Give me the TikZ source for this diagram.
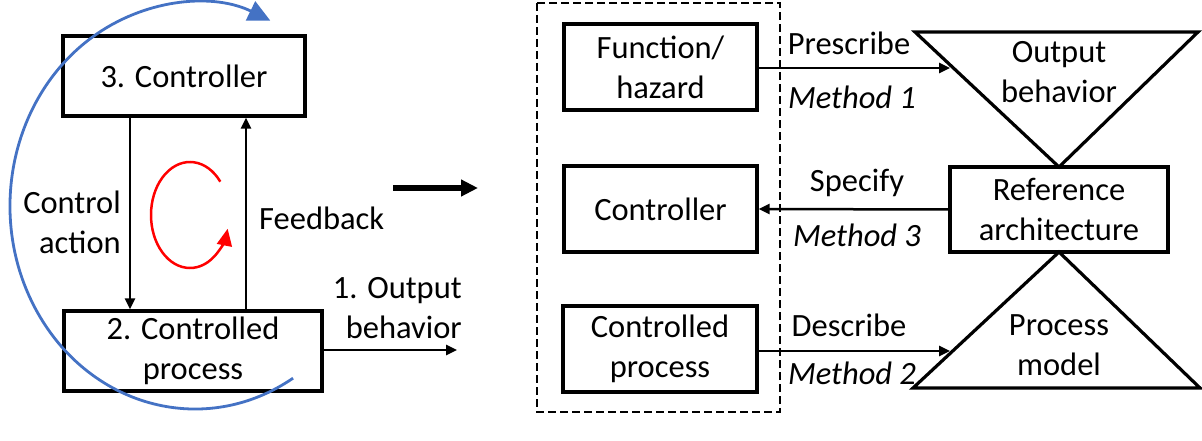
\documentclass[tikz,border=0pt]{standalone}
\usepackage{fontspec}
\setmainfont{Carlito}
\usetikzlibrary{arrows.meta}
\begin{document}
\begin{tikzpicture}[x=1pt,y=1pt,
  every node/.style={font=\fontsize{32.5}{40}\selectfont, inner sep=0pt, align=center},
  box/.style={draw, line width=3.2pt},
  arr/.style={line width=2.5pt, -{Triangle[length=11pt,width=10pt]}},
  mth/.style={font=\fontsize{32.5}{40}\selectfont\itshape}]
\useasboundingbox (0,0) rectangle (1202,-441);
% left part
\node[box, minimum width=242, minimum height=80] (ctrl) at (184,-76) {3. Controller};
\node[box, minimum width=258, minimum height=80] (proc) at (193,-351) {2. Controlled\\process};
\coordinate (caX) at (130,0);
\coordinate (fbX) at (246,0);
\draw[arr] (ctrl.south -| caX) -- (proc.north -| caX);
\draw[arr] (proc.north -| fbX) -- (ctrl.south -| fbX);
\node[anchor=east, align=right] (calbl) at (121,-222) {Control\\action};
\node[anchor=west] (fblbl) at (259,-218) {Feedback};
\coordinate (outEnd) at (457,-350);
\draw[arr] (proc.east |- outEnd) -- (outEnd);
\node[anchor=east, align=right] (outlbl) at (462,-308) {1. Output\\behavior};
% red loop
\coordinate (rc) at (190,-215);
\draw[red, line width=2.5pt, -{Triangle[length=17pt,width=15pt]}]
  (rc) ++(39:39 and 53) arc[start angle=39, end angle=345, x radius=39, y radius=53];
% blue loop
\coordinate (bc) at (195,-206);
\draw[color={rgb,255:red,68;green,114;blue,196}, line width=2.8pt, -{Triangle[length=22pt,width=21pt]}]
  (bc) ++(-58:185 and 203) arc[start angle=-58, end angle=-294, x radius=185, y radius=203];
% big arrow
\coordinate (ba1) at (393,-188);
\coordinate (ba2) at (478,-188);
\draw[line width=5.5pt, -{Triangle[length=17pt,width=16pt]}] (ba1) -- (ba2);
% right part
\draw[line width=2.6pt, dash pattern=on 8pt off 4pt] (537,-3) rectangle (780,-412);
\node[box, minimum width=193, minimum height=86] (fh) at (660.5,-67) {Function/\\hazard};
\node[box, minimum width=193, minimum height=86] (rctrl) at (660.5,-209) {Controller};
\node[box, minimum width=194, minimum height=86] (rproc) at (660,-349) {Controlled\\process};
\node[box, minimum width=218, minimum height=85] (ref) at (1059,-209.5) {Reference\\architecture};
% triangles
\coordinate (t1a) at (915,-32);
\coordinate (t1b) at (1198,-32);
\coordinate (t1c) at (1059,-167);
\draw[line width=3.2pt, line join=miter] (t1a) -- (t1b) -- (t1c) -- cycle;
\node (ob) at (1059,-72) {Output\\behavior};
\coordinate (t2a) at (1059,-252);
\coordinate (t2b) at (1200,-388);
\coordinate (t2c) at (913,-388);
\draw[line width=3.2pt, line join=miter] (t2a) -- (t2b) -- (t2c) -- cycle;
\node (pm) at (1059,-345) {Process\\model};
% method arrows
\coordinate (p1) at (950,-68);
\draw[arr] (fh.east |- p1) -- (p1);
\node (prescribe) at (849,-43) {Prescribe};
\node[mth] (m1) at (852,-97) {Method 1};
\draw[arr] (ref.west) -- (rctrl.east);
\node (specify) at (857,-183) {Specify};
\node[mth] (m3) at (857,-235) {Method 3};
\coordinate (p2) at (950,-351);
\draw[arr] (rproc.east |- p2) -- (p2);
\node (describe) at (849,-325) {Describe};
\node[mth] (m2) at (852,-373) {Method 2};
\end{tikzpicture}
\end{document}
